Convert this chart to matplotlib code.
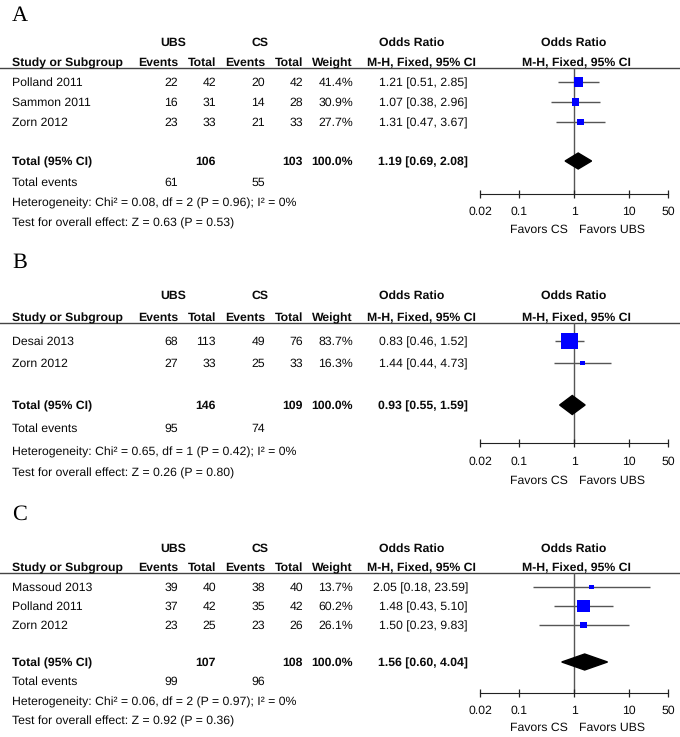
import matplotlib
matplotlib.use("Agg")
import matplotlib.pyplot as plt

plt.rcParams['font.family'] = ['Liberation Sans', 'DejaVu Sans']
plt.rcParams['text.hinting'] = 'no_hinting'

# ---- data -------------------------------------------------------------
panel_labels = ["A", "B", "C"]

studies_a = ["Polland 2011", "Sammon 2011", "Zorn 2012"]
ubs_events_a = [22, 16, 23]
ubs_total_a = [42, 31, 33]
cs_events_a = [20, 14, 21]
cs_total_a = [42, 28, 33]
weight_a = [41.4, 30.9, 27.7]
or_a = [1.21, 1.07, 1.31]
lo_a = [0.51, 0.38, 0.47]
hi_a = [2.85, 2.96, 3.67]
pooled_a = [1.19, 0.69, 2.08]
sum_total_a = [106, 103]
sum_events_a = [61, 55]
het_a = "Heterogeneity: Chi² = 0.08, df = 2 (P = 0.96); I² = 0%"
test_a = "Test for overall effect: Z = 0.63 (P = 0.53)"

studies_b = ["Desai 2013", "Zorn 2012"]
ubs_events_b = [68, 27]
ubs_total_b = [113, 33]
cs_events_b = [49, 25]
cs_total_b = [76, 33]
weight_b = [83.7, 16.3]
or_b = [0.83, 1.44]
lo_b = [0.46, 0.44]
hi_b = [1.52, 4.73]
pooled_b = [0.93, 0.55, 1.59]
sum_total_b = [146, 109]
sum_events_b = [95, 74]
het_b = "Heterogeneity: Chi² = 0.65, df = 1 (P = 0.42); I² = 0%"
test_b = "Test for overall effect: Z = 0.26 (P = 0.80)"

studies_c = ["Massoud 2013", "Polland 2011", "Zorn 2012"]
ubs_events_c = [39, 37, 23]
ubs_total_c = [40, 42, 25]
cs_events_c = [38, 35, 23]
cs_total_c = [40, 42, 26]
weight_c = [13.7, 60.2, 26.1]
or_c = [2.05, 1.48, 1.50]
lo_c = [0.18, 0.43, 0.23]
hi_c = [23.59, 5.10, 9.83]
pooled_c = [1.56, 0.60, 4.04]
sum_total_c = [107, 108]
sum_events_c = [99, 96]
het_c = "Heterogeneity: Chi² = 0.06, df = 2 (P = 0.97); I² = 0%"
test_c = "Test for overall effect: Z = 0.92 (P = 0.36)"

tick_vals = [0.02, 0.1, 1, 10, 50]
tick_labels = ["0.02", "0.1", "1", "10", "50"]

panels = [
    (studies_a, ubs_events_a, ubs_total_a, cs_events_a, cs_total_a, weight_a,
     or_a, lo_a, hi_a, pooled_a, sum_total_a, sum_events_a, het_a, test_a),
    (studies_b, ubs_events_b, ubs_total_b, cs_events_b, cs_total_b, weight_b,
     or_b, lo_b, hi_b, pooled_b, sum_total_b, sum_events_b, het_b, test_b),
    (studies_c, ubs_events_c, ubs_total_c, cs_events_c, cs_total_c, weight_c,
     or_c, lo_c, hi_c, pooled_c, sum_total_c, sum_events_c, het_c, test_c),
]

# ---- layout (pixel rows for each panel) -------------------------------
W, H = 680, 737
layouts = [
    dict(label=15, grp=42, hdr=62, rule=68, rows=[82, 102, 122], total=161,
         events=182, het=202, test=222, axis=194, dh=8, tl=211, fav=229),
    dict(label=262, grp=295, hdr=317, rule=323, rows=[341, 363], total=405,
         events=428, het=451, test=472, axis=443, dh=9.5, tl=461, fav=480),
    dict(label=513, grp=548, hdr=567, rule=573, rows=[587, 606, 625], total=662,
         events=681, het=701, test=720, axis=693, dh=8, tl=710, fav=727),
]
# right edges of the table columns
x_study = 12
x_ue, x_ut, x_ce, x_ct, x_w, x_or = 178, 216, 265, 303, 353, 468
plot_left, plot_right = 480, 668

fs = 8.8
fig = plt.figure(figsize=(W / 100, H / 100), dpi=100)
ax0 = fig.add_axes([0, 0, 1, 1])
ax0.set_xlim(0, W)
ax0.set_ylim(H, 0)
ax0.axis('off')


def txt(x, y, s, ha='right', bold=False, size=fs):
    ax0.text(x, y, s, ha=ha, va='center_baseline', fontsize=size,
             fontweight='bold' if bold else 'normal', color='#0a0a0a')


for lab, data, lay in zip(panel_labels, panels, layouts):
    (studies, ue, ut, ce, ct, wt, orv, lo, hi, pooled,
     stot, sev, het, test) = data

    ax0.text(12, lay['label'] + 1, lab, ha='left', va='center', fontsize=16,
             family='Liberation Serif')

    # header
    txt(173, lay['grp'], "UBS", ha='center', bold=True)
    txt(260, lay['grp'], "CS", ha='center', bold=True)
    txt(412, lay['grp'], "Odds Ratio", ha='center', bold=True)
    txt(574, lay['grp'], "Odds Ratio", ha='center', bold=True)
    txt(x_study, lay['hdr'], "Study or Subgroup", ha='left', bold=True)
    txt(x_ue, lay['hdr'], "Events", bold=True)
    txt(x_ut, lay['hdr'], "Total", bold=True)
    txt(x_ce, lay['hdr'], "Events", bold=True)
    txt(x_ct, lay['hdr'], "Total", bold=True)
    txt(x_w, lay['hdr'], "Weight", bold=True)
    txt(421, lay['hdr'], "M-H, Fixed, 95% CI", ha='center', bold=True)
    txt(576, lay['hdr'], "M-H, Fixed, 95% CI", ha='center', bold=True)
    ax0.plot([0, W], [lay['rule'], lay['rule']], color='#444444', lw=1.0)

    # study rows
    for i, y in enumerate(lay['rows']):
        txt(x_study, y, studies[i], ha='left')
        txt(x_ue, y, str(ue[i]))
        txt(x_ut, y, str(ut[i]))
        txt(x_ce, y, str(ce[i]))
        txt(x_ct, y, str(ct[i]))
        txt(x_w, y, f"{wt[i]:.1f}%")
        txt(x_or, y, f"{orv[i]:.2f} [{lo[i]:.2f}, {hi[i]:.2f}]")

    y = lay['total']
    txt(x_study, y, "Total (95% CI)", ha='left', bold=True)
    txt(x_ut, y, str(stot[0]), bold=True)
    txt(x_ct, y, str(stot[1]), bold=True)
    txt(x_w, y, "100.0%", bold=True)
    txt(x_or, y, f"{pooled[0]:.2f} [{pooled[1]:.2f}, {pooled[2]:.2f}]", bold=True)
    txt(x_study, lay['events'], "Total events", ha='left')
    txt(x_ue, lay['events'], str(sev[0]))
    txt(x_ce, lay['events'], str(sev[1]))
    txt(x_study, lay['het'], het, ha='left')
    txt(x_study, lay['test'], test, ha='left')

    # forest plot axes, y in pixel rows
    top, bot = lay['rule'], lay['axis']
    ax = fig.add_axes([plot_left / W, 1 - bot / H,
                       (plot_right - plot_left) / W, (bot - top) / H])
    ax.set_xscale('log')
    ax.set_xlim(tick_vals[0], tick_vals[-1])
    ax.set_ylim(bot, top)
    ax.patch.set_alpha(0)
    for s in ['top', 'left', 'right']:
        ax.spines[s].set_visible(False)
    ax.spines['bottom'].set_color('#222222')
    ax.set_yticks([])
    ax.set_xticks(tick_vals)
    ax.set_xticklabels([])
    ax.minorticks_off()
    ax.tick_params(axis='x', direction='inout', length=6, width=0.9,
                   color='#222222')
    ax.axvline(1, color='#555555', lw=1.0, zorder=1)
    for v, t in zip(tick_vals, tick_labels):
        ax.text(v, lay['tl'], t, ha='center', va='center_baseline', fontsize=fs,
                color='#0a0a0a', clip_on=False)

    ax.hlines(lay['rows'], lo, hi, color='#555555', lw=1.0, zorder=2,
              clip_on=False)
    sizes = [((2.2 + 0.171 * w) * 0.72) ** 2 for w in wt]
    ax.scatter(orv, lay['rows'], s=sizes, marker='s', color='#0000ff',
               linewidths=0, zorder=3, clip_on=False)
    d = lay['dh']
    ax.fill([pooled[1], pooled[0], pooled[2], pooled[0]],
            [y, y - d, y, y + d], color='black', zorder=3)

    txt(568, lay['fav'], "Favors CS")
    txt(579, lay['fav'], "Favors UBS", ha='left')

fig.savefig("out.png", dpi=100)
